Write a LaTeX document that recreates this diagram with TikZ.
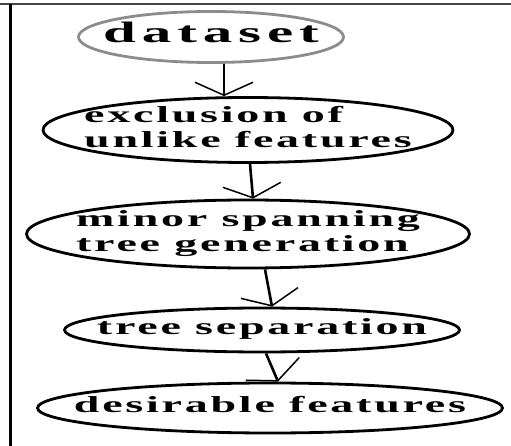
\documentclass[tikz,border=0pt]{standalone}
\usepackage{fontspec}
\usepackage{graphicx}
\setmainfont{Liberation Serif}
\newfontfamily\stepfont{Liberation Serif Bold}[LetterSpace=6]
\newfontfamily\startfont{Liberation Serif Bold}[LetterSpace=10]
\newcommand{\widened}[1]{\scalebox{2}[1]{\begin{tabular}{@{}l@{}}#1\end{tabular}}}
\usepackage{tikz}
\usetikzlibrary{arrows.meta, shapes.geometric}
\definecolor{frameink}{RGB}{70, 70, 70}
\definecolor{startink}{RGB}{140, 140, 140}

\begin{document}
\begin{tikzpicture}[x=1pt, y=-1pt,
  stage/.style={ellipse, draw, line width=2.8pt, inner sep=0pt},
  stagetext/.style={font=\stepfont\fontsize{23}{24.5}\selectfont, inner sep=0pt},
  flow/.style={line width=2.6pt, -{Straight Barb[length=13pt, width=58pt, line width=1.5pt]}}]
  \useasboundingbox (0,0) rectangle (511,446);
  \draw[line width=2pt, frameink] (0,4) -- (511,4);
  \draw[line width=3pt] (10,4) -- (10,446);
  \node[stage, draw=startink, minimum width=265pt, minimum height=51pt,
        label={[font=\startfont\fontsize{29.5}{30}\selectfont, inner sep=0pt]center:\widened{dataset}}] (data) at (211,37) {};
  \node[stage, minimum width=410pt, minimum height=65pt,
        label={[stagetext]center:\widened{exclusion of\\unlike features}}] (excl) at (248,130) {};
  \node[stage, minimum width=443pt, minimum height=68pt,
        label={[stagetext]center:\widened{minor spanning\\tree generation}}] (mst) at (248,234) {};
  \node[stage, minimum width=395pt, minimum height=44pt,
        label={[stagetext]center:\widened{tree separation}}] (split) at (262,330) {};
  \node[stage, minimum width=465pt, minimum height=50pt,
        label={[stagetext]center:\widened{desirable features}}] (wanted) at (270,408) {};
  \draw[flow] ([xshift=13pt]data.south) -- ([xshift=-24pt]excl.north);
  \draw[flow] ([xshift=2pt]excl.south) -- ([xshift=5pt]mst.north);
  \draw[flow] ([xshift=17pt]mst.south) -- ([xshift=10pt]split.north);
  \draw[flow] ([xshift=4pt]split.south) -- ([xshift=8pt]wanted.north);
\end{tikzpicture}
\end{document}
